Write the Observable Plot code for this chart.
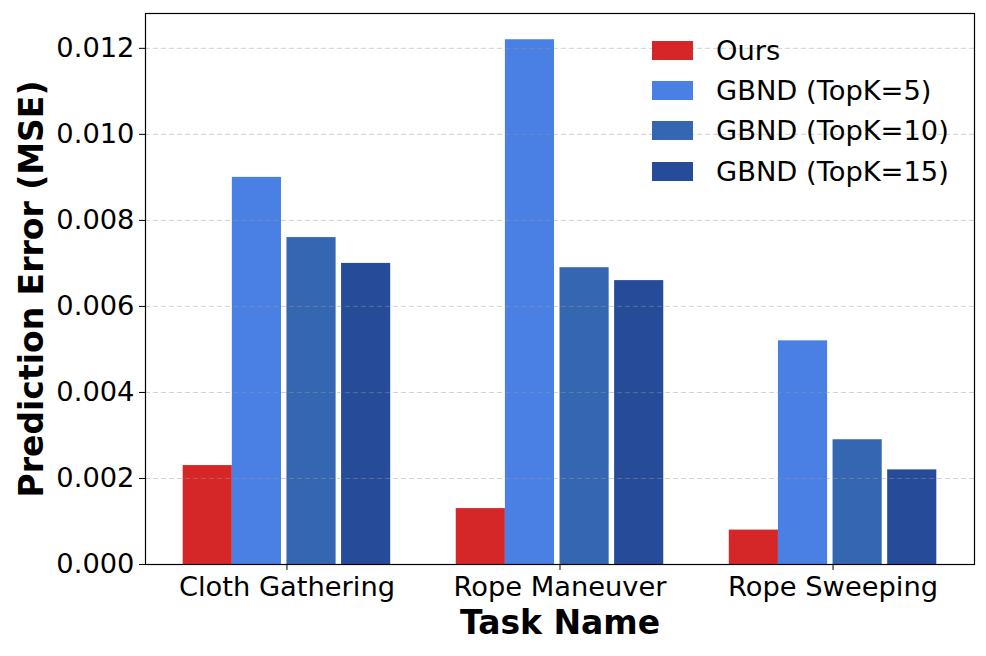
<!DOCTYPE html>
<html>
<head>
<meta charset="utf-8">
<script src="https://cdn.jsdelivr.net/npm/d3@7"></script>
<script src="https://cdn.jsdelivr.net/npm/@observablehq/plot@0.6"></script>
<style>
  html, body { margin: 0; padding: 0; background: #fff; }
  #wrap { position: relative; width: 986px; height: 656px; font-family: "DejaVu Sans", sans-serif; }
  #legend { position: absolute; left: 652px; top: 30px; }
  .row { display: flex; align-items: center; height: 40.3px; }
  .sw { width: 41px; height: 19px; margin-right: 23px; }
  .lab { font-size: 27.3px; color: #000; white-space: nowrap; }
  svg g[aria-label="y-axis label"] text, svg g[aria-label="x-axis label"] text { font-weight: bold; font-size: 33px; }
</style>
</head>
<body>
<div id="wrap"></div>
<script>
// ---- data ----
const tasks = ["Cloth Gathering", "Rope Maneuver", "Rope Sweeping"];
const methods = ["Ours", "GBND (TopK=5)", "GBND (TopK=10)", "GBND (TopK=15)"];
const ours   = [0.0023, 0.0013, 0.0008];
const gbnd5  = [0.0090, 0.0122, 0.0052];
const gbnd10 = [0.0076, 0.0069, 0.0029];
const gbnd15 = [0.0070, 0.0066, 0.0022];
const yTicks = [0, 0.002, 0.004, 0.006, 0.008, 0.010, 0.012];

// ---- style / layout ----
const colors = ["#d62728", "#4a80e4", "#3466b2", "#264c99"];
const offsets = [-0.38, -0.20, 0.0, 0.20];
const barW = 0.18;

const series = [ours, gbnd5, gbnd10, gbnd15];
const rows = [];
tasks.forEach((t, i) => {
  methods.forEach((m, j) => {
    rows.push({task: t, method: m, x1: i + offsets[j], x2: i + offsets[j] + barW, value: series[j][i]});
  });
});

const chart = Plot.plot({
  width: 986,
  height: 656,
  marginLeft: 145,
  marginRight: 12,
  marginTop: 13,
  marginBottom: 92,
  style: {fontFamily: "DejaVu Sans", fontSize: "27.3px", color: "black", background: "white", overflow: "visible"},
  x: {domain: [-0.518, 2.518]},
  y: {domain: [0, 0.01281]},
  color: {domain: methods, range: colors},
  marks: [
    Plot.rect(rows, {x1: "x1", x2: "x2", y1: 0, y2: "value", fill: "method"}),
    Plot.gridY(yTicks, {stroke: "#999", strokeOpacity: 0.45, strokeDasharray: "5,3", strokeWidth: 1}),
    Plot.frame({stroke: "black", strokeWidth: 1.2}),
    Plot.axisY(yTicks, {tickFormat: d3.format(".3f"), tickSize: 6, tickPadding: 5, stroke: "black",
      label: "Prediction Error (MSE)", labelAnchor: "center", labelOffset: 126, labelArrow: "none"}),
    Plot.axisX([0, 1, 2], {tickFormat: i => tasks[i], tickSize: 6, tickPadding: 6, stroke: "black",
      label: "Task Name", labelAnchor: "center", labelOffset: 69, labelArrow: "none"})
  ]
});

const wrap = document.getElementById("wrap");
wrap.appendChild(chart);

const legend = document.createElement("div");
legend.id = "legend";
methods.forEach((m, j) => {
  const r = document.createElement("div");
  r.className = "row";
  const s = document.createElement("div");
  s.className = "sw";
  s.style.background = colors[j];
  const l = document.createElement("div");
  l.className = "lab";
  l.textContent = m;
  r.appendChild(s); r.appendChild(l);
  legend.appendChild(r);
});
wrap.appendChild(legend);
</script>
</body>
</html>
